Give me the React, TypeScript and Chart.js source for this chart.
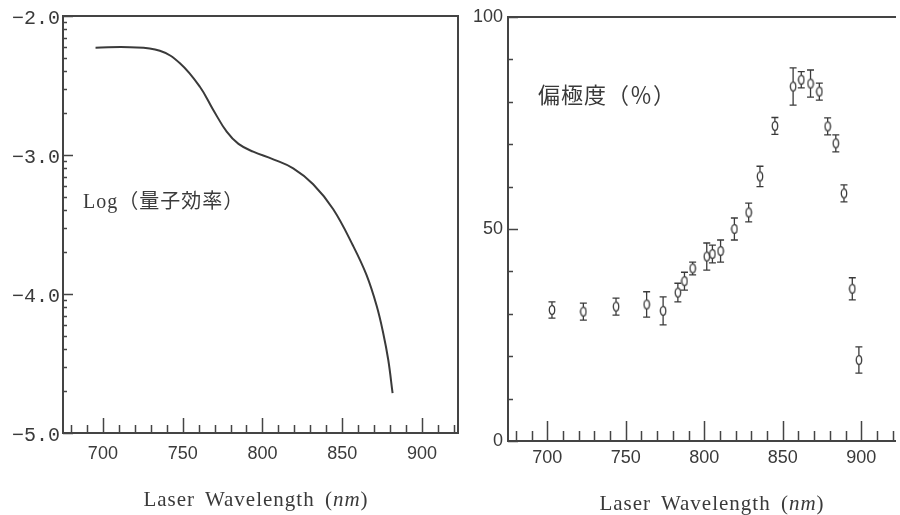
import React, { useEffect, useRef } from "react";
import { Chart, registerables } from "chart.js";

Chart.register(...registerables);

// ---------- Left panel: Log (quantum efficiency) vs laser wavelength ----------
const curveWavelength = [695.4, 716.9, 735.7, 748.3, 760.8, 769.2, 777.6, 785, 794.2, 806.8, 819.3, 831.8, 844.4, 856.9, 865.3, 871.6, 875.7, 878.9, 881.6];
const curveLogQE = [-2.228, -2.225, -2.25, -2.34, -2.509, -2.676, -2.832, -2.92, -2.976, -3.031, -3.096, -3.21, -3.39, -3.655, -3.865, -4.085, -4.28, -4.475, -4.714];

// ---------- Right panel: polarization degree (%) with error bars ----------
const polWavelength = [703, 723, 743.8, 763.3, 773.8, 783.2, 787.4, 792.6, 801.6, 805.2, 810.4, 819.2, 828.3, 835.5, 845, 856.6, 861.8, 867.7, 873.3, 878.6, 883.8, 889, 894.3, 898.5];
const polDegree = [30.9, 30.5, 31.7, 32.2, 30.7, 35, 37.7, 40.7, 43.5, 44.1, 44.8, 50, 53.9, 62.4, 74.3, 83.6, 85.2, 84.3, 82.4, 74.2, 70.2, 58.4, 35.9, 19.1];
const polError = [1.9, 2, 2, 3, 3.3, 2.2, 2.1, 1.5, 3.2, 2.1, 2.6, 2.6, 2.2, 2.4, 2, 4.4, 1.9, 3.2, 2, 2, 2, 2, 2.6, 3.1];

// ---------- Tick values ----------
const xMajorTicks = [700, 750, 800, 850, 900];
const xMinorTicks = [680, 690, 710, 720, 730, 740, 760, 770, 780, 790, 810, 820, 830, 840, 860, 870, 880, 890, 910, 920];
const leftYTicks = [-5, -4, -3, -2];
const logDecades = [-3, -4, -5];
const logMinorFactors = [2, 3, 4, 5, 6, 7, 8, 9];
const rightYTicks = [0, 50, 100];
const rightYMinor = [10, 20, 30, 40, 60, 70, 80, 90];

const INK = "#3a3a3a";

const axisDecor = {
  id: "axisDecor",
  beforeDatasetsDraw(chart: any, _args: any, o: any) {
    const { ctx, chartArea: a, scales } = chart;
    ctx.save();
    ctx.strokeStyle = o.color;
    ctx.lineWidth = o.frameWidth;
    ctx.beginPath();
    const sides: string[] = o.sides;
    if (sides.includes("top")) { ctx.moveTo(a.left - 1, a.top); ctx.lineTo(a.right + 1, a.top); }
    if (sides.includes("bottom")) { ctx.moveTo(a.left - 1, a.bottom); ctx.lineTo(a.right + 1, a.bottom); }
    if (sides.includes("left")) { ctx.moveTo(a.left, a.top - 1); ctx.lineTo(a.left, a.bottom + 1); }
    if (sides.includes("right")) { ctx.moveTo(a.right, a.top - 1); ctx.lineTo(a.right, a.bottom + 1); }
    ctx.stroke();
    ctx.lineWidth = o.tickWidth;
    ctx.beginPath();
    const drawX = (vals: number[], len: number) => {
      vals.forEach((v) => {
        const px = Math.round(scales.x.getPixelForValue(v)) + 0.5;
        ctx.moveTo(px, a.bottom);
        ctx.lineTo(px, a.bottom - len);
      });
    };
    const drawY = (vals: number[], len: number) => {
      vals.forEach((v) => {
        const py = Math.round(scales.y.getPixelForValue(v)) + 0.5;
        ctx.moveTo(a.left, py);
        ctx.lineTo(a.left + len, py);
      });
    };
    drawX(o.xMajor, o.xMajorLen);
    drawX(o.xMinor, o.xMinorLen);
    drawY(o.yMajor, o.yMajorLen);
    drawY(o.yMinor, o.yMinorLen);
    ctx.stroke();
    ctx.restore();
  },
};

const errorBars = {
  id: "errorBars",
  beforeDatasetsDraw(chart: any) {
    const { ctx, scales } = chart;
    ctx.save();
    ctx.strokeStyle = INK;
    ctx.lineWidth = 1.3;
    ctx.beginPath();
    polWavelength.forEach((w, i) => {
      const px = scales.x.getPixelForValue(w);
      const top = scales.y.getPixelForValue(polDegree[i] + polError[i]);
      const bot = scales.y.getPixelForValue(polDegree[i] - polError[i]);
      ctx.moveTo(px, top);
      ctx.lineTo(px, bot);
      ctx.moveTo(px - 3.5, top);
      ctx.lineTo(px + 3.5, top);
      ctx.moveTo(px - 3.5, bot);
      ctx.lineTo(px + 3.5, bot);
    });
    ctx.stroke();
    ctx.restore();
  },
};

function makeMarker() {
  const c = document.createElement("canvas");
  c.width = 8;
  c.height = 12;
  const g = c.getContext("2d")!;
  g.fillStyle = "#ffffff";
  g.strokeStyle = INK;
  g.lineWidth = 1.3;
  g.beginPath();
  g.ellipse(4, 6, 2.7, 4.4, 0, 0, Math.PI * 2);
  g.fill();
  g.stroke();
  return c;
}

const tickFont = { family: "'Liberation Sans', Arial, sans-serif", size: 18 };

export default function App() {
  const leftRef = useRef<HTMLCanvasElement>(null);
  const rightRef = useRef<HTMLCanvasElement>(null);

  useEffect(() => {
    const logMinor: number[] = [];
    logDecades.forEach((d) => logMinorFactors.forEach((k) => logMinor.push(d + Math.log10(k))));

    const left = new Chart(leftRef.current!, {
      type: "line",
      data: {
        datasets: [
          {
            data: curveWavelength.map((x, i) => ({ x, y: curveLogQE[i] })),
            borderColor: INK,
            borderWidth: 2,
            pointRadius: 0,
            tension: 0.4,
            fill: false,
          },
        ],
      },
      options: {
        animation: false,
        responsive: false,
        events: [],
        layout: { padding: { top: 16, right: 2, left: 0, bottom: 0 } },
        plugins: {
          legend: { display: false },
          tooltip: { enabled: false },
          axisDecor: {
            color: "#444",
            frameWidth: 2,
            tickWidth: 1.5,
            sides: ["top", "bottom", "left", "right"],
            xMajor: xMajorTicks,
            xMinor: xMinorTicks,
            xMajorLen: 15,
            xMinorLen: 8,
            yMajor: leftYTicks,
            yMinor: logMinor,
            yMajorLen: 10,
            yMinorLen: 4,
          },
        } as any,
        scales: {
          x: {
            type: "linear",
            min: 675,
            max: 922.6,
            afterBuildTicks: (s: any) => { s.ticks = xMajorTicks.map((v) => ({ value: v })); },
            afterFit: (s: any) => { s.height = 82; },
            grid: { display: false, drawTicks: false },
            border: { display: false },
            ticks: { font: tickFont, color: INK, padding: 10, maxRotation: 0, autoSkip: false, callback: (v: any) => String(v) },
          },
          y: {
            type: "linear",
            min: -5,
            max: -2,
            afterBuildTicks: (s: any) => { s.ticks = leftYTicks.map((v) => ({ value: v })); },
            afterFit: (s: any) => { s.width = 63; },
            grid: { display: false, drawTicks: false },
            border: { display: false },
            ticks: {
              font: { family: "'Liberation Mono', 'DejaVu Sans Mono', monospace", size: 20 },
              color: INK,
              padding: 3,
              labelOffset: 3,
              callback: (v: any) => "\u2212" + Math.abs(Number(v)).toFixed(1),
            },
          },
        },
      },
      plugins: [axisDecor],
    } as any);

    const marker = makeMarker();
    const right = new Chart(rightRef.current!, {
      type: "scatter",
      data: {
        datasets: [
          {
            data: polWavelength.map((x, i) => ({ x, y: polDegree[i] })),
            pointStyle: marker,
            pointRadius: 4,
            showLine: false,
          },
        ],
      },
      options: {
        animation: false,
        responsive: false,
        events: [],
        layout: { padding: { top: 17, right: 0, left: 0, bottom: 0 } },
        plugins: {
          legend: { display: false },
          tooltip: { enabled: false },
          axisDecor: {
            color: "#444",
            frameWidth: 2,
            tickWidth: 1.5,
            sides: ["top", "bottom", "left"],
            xMajor: xMajorTicks,
            xMinor: xMinorTicks,
            xMajorLen: 20,
            xMinorLen: 10,
            yMajor: rightYTicks,
            yMinor: rightYMinor,
            yMajorLen: 10,
            yMinorLen: 5,
          },
        } as any,
        scales: {
          x: {
            type: "linear",
            min: 675,
            max: 921.5,
            afterBuildTicks: (s: any) => { s.ticks = xMajorTicks.map((v) => ({ value: v })); },
            afterFit: (s: any) => { s.height = 74; },
            grid: { display: false, drawTicks: false },
            border: { display: false },
            ticks: { font: tickFont, color: INK, padding: 6, maxRotation: 0, autoSkip: false, callback: (v: any) => String(v) },
          },
          y: {
            type: "linear",
            min: 0,
            max: 100,
            afterBuildTicks: (s: any) => { s.ticks = rightYTicks.map((v) => ({ value: v })); },
            afterFit: (s: any) => { s.width = 48; },
            grid: { display: false, drawTicks: false },
            border: { display: false },
            ticks: { font: tickFont, color: INK, padding: 5, callback: (v: any) => String(v) },
          },
        },
      },
      plugins: [errorBars, axisDecor],
    } as any);

    return () => {
      left.destroy();
      right.destroy();
    };
  }, []);

  const titleStyle: React.CSSProperties = {
    position: "absolute",
    width: 320,
    textAlign: "center",
    fontFamily: "'Liberation Serif', 'DejaVu Serif', serif",
    fontSize: 21,
    letterSpacing: "1px",
    wordSpacing: "4px",
    color: INK,
    lineHeight: "22px",
    whiteSpace: "nowrap",
  };

  return (
    <div style={{ position: "absolute", left: 0, top: 0, width: 900, height: 515, background: "#fff", overflow: "hidden" }}>
      <canvas ref={leftRef} width={460} height={515} style={{ position: "absolute", left: 0, top: 0 }} />
      <canvas ref={rightRef} width={440} height={515} style={{ position: "absolute", left: 460, top: 0 }} />
      <div
        style={{
          position: "absolute",
          left: 83,
          top: 190,
          fontFamily: "'Liberation Serif', 'Noto Sans CJK JP', serif",
          fontSize: 20,
          lineHeight: "22px",
          letterSpacing: "1px",
          color: INK,
          whiteSpace: "nowrap",
        }}
      >
        Log（量子効率）
      </div>
      <div
        style={{
          position: "absolute",
          left: 538,
          top: 81,
          fontFamily: "'Noto Sans CJK JP', sans-serif",
          fontSize: 22,
          lineHeight: "24px",
          letterSpacing: "1px",
          color: INK,
          whiteSpace: "nowrap",
        }}
      >
        偏極度（％）
      </div>
      <div style={{ ...titleStyle, left: 256 - 160, top: 488 }}>
        Laser Wavelength (<i>nm</i>)
      </div>
      <div style={{ ...titleStyle, left: 712 - 160, top: 492 }}>
        Laser Wavelength (<i>nm</i>)
      </div>
    </div>
  );
}
